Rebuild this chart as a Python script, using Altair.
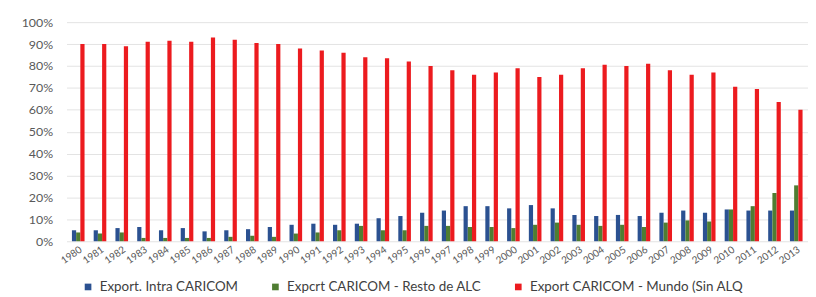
import altair as alt
import pandas as pd

years = [str(y) for y in range(1980, 2014)]
intra = [5, 5, 6, 6.5, 5, 6, 4.5, 5, 5.5, 6.5, 7.5, 8, 7.5, 8, 10.5, 11.5, 13, 14, 16, 16,
         15, 16.5, 15, 12, 11.5, 12, 11.5, 13, 14, 13, 14.5, 14, 14, 14]
resto = [4, 3.5, 4, 1.5, 1.5, 1.5, 1.5, 2, 2.5, 2, 3.5, 4, 5, 7, 5, 5, 7, 7, 6.5, 6.5,
         6, 7.5, 8.5, 7.5, 7, 7.5, 6.5, 8.5, 9.5, 9, 14.5, 16, 22, 25.5]
mundo = [90, 90, 89, 91, 91.5, 91, 93, 92, 90.5, 90, 88, 87, 86, 84, 83.5, 82, 80, 78, 76, 77,
         79, 75, 76, 79, 80.5, 80, 81, 78, 76, 77, 70.5, 69.5, 63.5, 60]
series = ["Export. Intra CARICOM", "Expcrt CARICOM - Resto de ALC", "Export CARICOM - Mundo (Sin ALQ"]
colors = ["#2B5191", "#4F7D32", "#EC1B1F"]

rows = []
for i, y in enumerate(years):
    for s, vals in zip(series, [intra, resto, mundo]):
        rows.append({"year": y, "serie": s, "value": vals[i] / 100.0})
df = pd.DataFrame(rows)

chart = alt.Chart(df).mark_bar().encode(
    x=alt.X("year:N", sort=years,
            scale=alt.Scale(paddingInner=0.42, paddingOuter=0.25),
            axis=alt.Axis(title=None, labelAngle=-35, labelFontSize=10, labelColor="#595959",
                          ticks=False, domain=False, labelPadding=3)),
    xOffset=alt.XOffset("serie:N", sort=series, scale=alt.Scale(paddingInner=0, paddingOuter=0)),
    y=alt.Y("value:Q", scale=alt.Scale(domain=[0, 1]),
            axis=alt.Axis(title=None, format=".0%", values=[i / 10 for i in range(11)],
                          labelFontSize=12.5, labelColor="#595959", ticks=False, domain=False,
                          gridColor="#e3e3e3", labelPadding=14)),
    color=alt.Color("serie:N", sort=series,
                    scale=alt.Scale(domain=series, range=colors),
                    legend=alt.Legend(title=None, orient="none", legendX=15, legendY=260,
                                      direction="horizontal", symbolType="square", symbolSize=45,
                                      labelFontSize=13.5, labelColor="#404040", columnPadding=30,
                                      labelOffset=5, labelLimit=400)),
).properties(
    width=748, height=221,
    autosize=alt.AutoSizeParams(type="none"),
    padding={"left": 59, "top": 13, "right": 0, "bottom": 55},
).configure(
    font="Lato",
    background="white",
).configure_view(stroke=None)

chart.save("out.html", embed_options={"renderer": "svg", "actions": False})
